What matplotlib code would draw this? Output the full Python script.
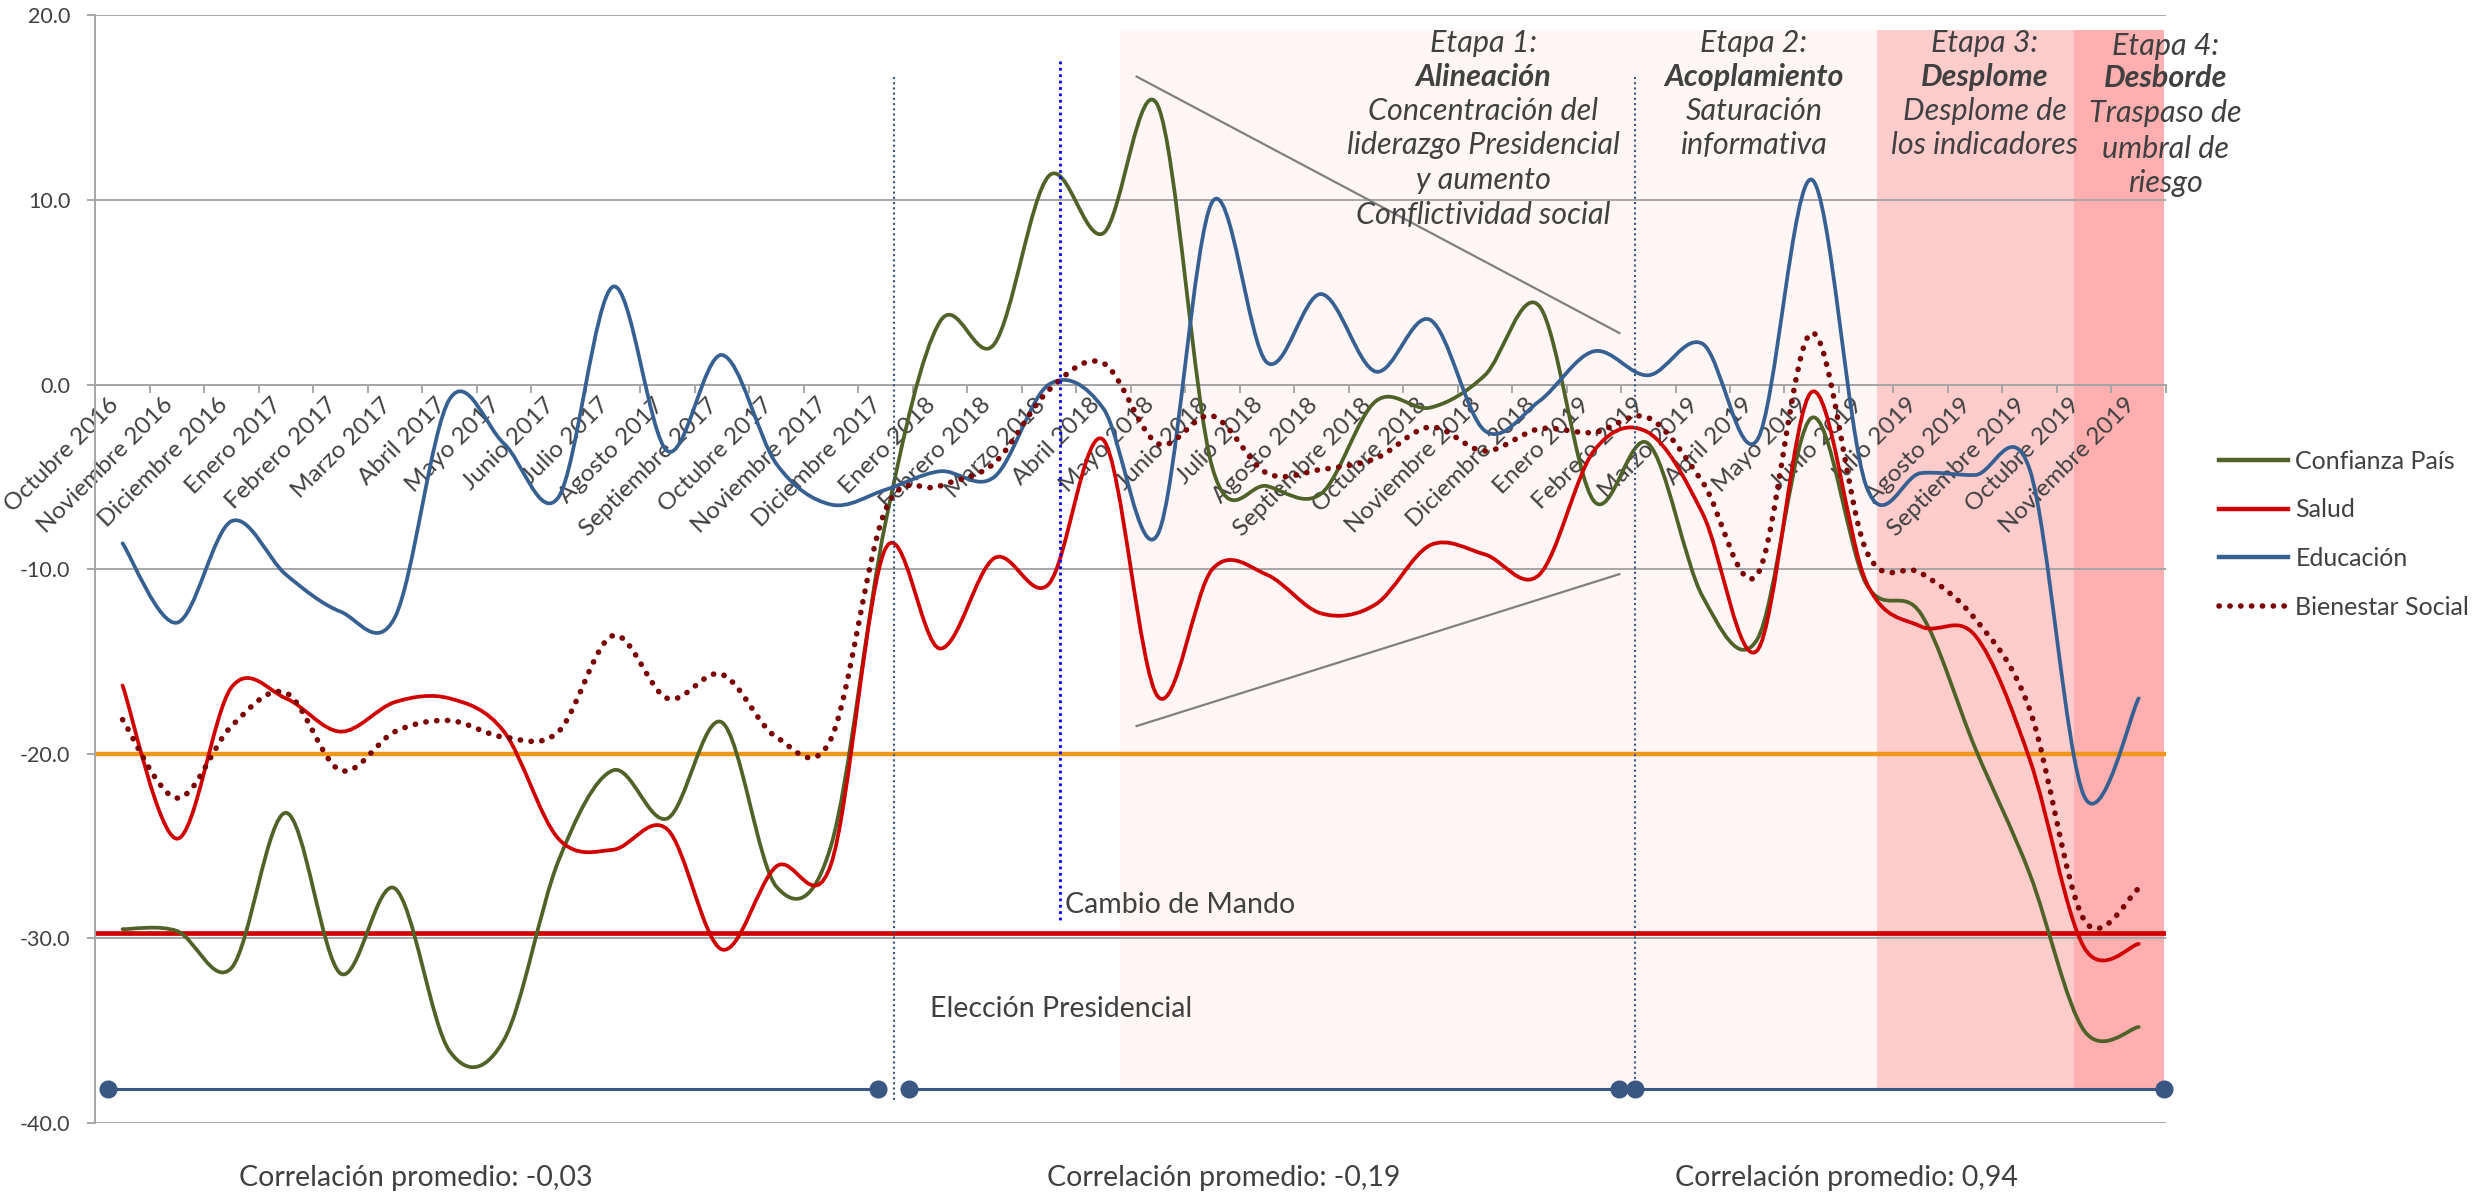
import matplotlib
matplotlib.use('Agg')
import matplotlib.pyplot as plt
from matplotlib.path import Path
from matplotlib.patches import PathPatch
from matplotlib.lines import Line2D
from matplotlib.transforms import ScaledTranslation

plt.rcParams['font.family'] = ['Lato', 'DejaVu Sans']

# datos
meses = ['Octubre 2016', 'Noviembre 2016', 'Diciembre 2016', 'Enero 2017', 'Febrero 2017',
         'Marzo 2017', 'Abril 2017', 'Mayo 2017', 'Junio 2017', 'Julio 2017', 'Agosto 2017',
         'Septiembre 2017', 'Octubre 2017', 'Noviembre 2017', 'Diciembre 2017', 'Enero 2018',
         'Febrero 2018', 'Marzo 2018', 'Abril 2018', 'Mayo 2018', 'Junio 2018', 'Julio 2018',
         'Agosto 2018', 'Septiembre 2018', 'Octubre 2018', 'Noviembre 2018', 'Diciembre 2018',
         'Enero 2019', 'Febrero 2019', 'Marzo 2019', 'Abril 2019', 'Mayo 2019', 'Junio 2019',
         'Julio 2019', 'Agosto 2019', 'Septiembre 2019', 'Octubre 2019', 'Noviembre 2019']

confianza = [-29.5, -29.6, -31.6, -23.2, -31.9, -27.3, -36.1, -35.5, -25.8, -20.9, -23.5, -18.3,
             -27.2, -25.0, -7.5, 3.4, 2.2, 11.3, 8.2, 15.1, -4.5, -5.5, -5.9, -0.9, -1.25, 0.5,
             4.25, -6.3, -3.2, -11.5, -13.8, -1.8, -10.8, -12.4, -19.7, -26.5, -35.0, -34.8]
salud = [-16.3, -24.6, -16.4, -17.0, -18.8, -17.2, -17.0, -18.8, -24.6, -25.2, -24.1, -30.6,
         -26.1, -26.0, -8.9, -14.3, -9.4, -10.8, -3.0, -16.9, -10.0, -10.3, -12.4, -11.9, -8.7,
         -9.2, -10.3, -3.6, -2.6, -7.0, -14.4, -0.4, -10.7, -13.1, -13.6, -20.3, -30.5, -30.3]
educacion = [-8.6, -12.9, -7.4, -10.3, -12.3, -12.6, -0.8, -3.2, -6.1, 5.3, -3.6, 1.6, -4.3,
             -6.5, -5.7, -4.7, -5.0, 0.0, -1.3, -8.1, 9.9, 1.2, 4.9, 0.7, 3.5, -2.5, -0.9, 1.8,
             0.5, 2.2, -3.0, 11.1, -5.5, -4.8, -4.9, -4.6, -22.3, -17.0]
bienestar = [-18.15, -22.4, -18.5, -16.7, -20.9, -18.8, -18.2, -19.1, -18.8, -13.6, -17.0, -15.7,
             -19.1, -19.2, -6.8, -5.5, -4.25, -0.3, 1.15, -3.2, -1.7, -4.8, -4.6, -4.0, -2.3,
             -3.6, -2.4, -2.6, -1.8, -5.3, -10.3, 2.8, -9.0, -10.2, -12.7, -17.6, -29.0, -27.3]

umbral_naranjo = -20.0
umbral_rojo = -29.7

etapas = [
    ['Etapa 1:', 'Alineación', 'Concentración del', 'liderazgo Presidencial', 'y aumento',
     'Conflictividad social'],
    ['Etapa 2:', 'Acoplamiento', 'Saturación', 'informativa'],
    ['Etapa 3:', 'Desplome', 'Desplome de', 'los indicadores'],
    ['Etapa 4:', 'Desborde', 'Traspaso de', 'umbral de', 'riesgo'],
]
correlaciones = ['Correlación promedio: -0,03', 'Correlación promedio: -0,19',
                 'Correlación promedio: 0,94']

TXT = '#404040'
GRID = '#A6A6A6'


def curva(ys):
    # suavizado tipo Excel (bezier con tangentes de Catmull-Rom)
    xs = list(range(len(ys)))
    n = len(xs)
    verts = [(xs[0], ys[0])]
    codes = [Path.MOVETO]
    for k in range(n - 1):
        x0, y0 = (xs[k - 1], ys[k - 1]) if k > 0 else (xs[k], ys[k])
        x3, y3 = (xs[k + 2], ys[k + 2]) if k + 2 < n else (xs[k + 1], ys[k + 1])
        c1 = (xs[k] + (xs[k + 1] - x0) / 6, ys[k] + (ys[k + 1] - y0) / 6)
        c2 = (xs[k + 1] - (x3 - xs[k]) / 6, ys[k + 1] - (y3 - ys[k]) / 6)
        verts += [c1, c2, (xs[k + 1], ys[k + 1])]
        codes += [Path.CURVE4] * 3
    return Path(verts, codes)


fig = plt.figure(figsize=(24.78, 11.94), dpi=100)
ax = fig.add_axes([0.03846, 0.05946, 0.8356, 0.92773])
ax.set_xlim(-0.5, len(meses) - 0.5)
ax.set_ylim(-40, 20)

# zonas de etapas
y0, y1 = (-38.15 + 40) / 60, (19.2 + 40) / 60
ax.axvspan(18.3, 32.2, ymin=y0, ymax=y1, color='#FFF6F5', lw=0, zorder=0)
ax.axvspan(32.2, 35.81, ymin=y0, ymax=y1, color='#FFCCCC', lw=0, zorder=0)
ax.axvspan(35.81, 37.47, ymin=y0, ymax=y1, color='#FFAFAF', lw=0, zorder=0)

# grilla
for v in range(-40, 21, 10):
    ax.axhline(v, color=GRID, lw=1.4, zorder=1)

ax.axhline(umbral_naranjo, color='#F0961A', lw=3.2, zorder=2)
ax.axhline(umbral_rojo, color='#D00000', lw=3.4, zorder=2)

# triangulo
ax.plot([18.61, 27.47], [16.68, 2.79], color='#808080', lw=1.6, zorder=2)
ax.plot([18.61, 27.47], [-18.5, -10.27], color='#808080', lw=1.6, zorder=2)

series = [
    ('Confianza País', confianza, '#4F6228'),
    ('Salud', salud, '#D00000'),
    ('Educación', educacion, '#376092'),
]
handles = []
for nombre, ys, col in series:
    ax.add_patch(PathPatch(curva(ys), fill=False, edgecolor=col, lw=2.7, zorder=4,
                           capstyle='round', joinstyle='round'))
    handles.append(Line2D([], [], color=col, lw=3.2, label=nombre))
punteado = (0, (0.05, 1.9))
ax.add_patch(PathPatch(curva(bienestar), fill=False, edgecolor='#7B0000', lw=4.0, zorder=4,
                       linestyle=punteado, capstyle='round'))
handles.append(Line2D([], [], color='#7B0000', lw=4.0, linestyle=punteado,
                      dash_capstyle='round', label='Bienestar Social'))

# lineas de periodos con marcadores
for a, b in [(-0.27, 13.86), (14.44, 27.47), (27.76, 37.46)]:
    ax.plot([a, b], [-38.15, -38.15], color='#3A5683', lw=2.2, marker='o', ms=12,
            zorder=5, clip_on=False)

# hitos
ax.plot([14.16, 14.16], [16.68, -38.87], color='#3A5683', lw=1.5, ls=(0, (1, 1.5)), zorder=5, clip_on=False)
ax.plot([17.2, 17.2], [17.55, -29.1], color='#0000FF', lw=2.0, ls=(0, (1, 1.3)), zorder=5)
ax.plot([27.75, 27.75], [16.68, -38.15], color='#3A5683', lw=1.5, ls=(0, (1, 1.5)), zorder=5)
ax.text(17.29, -28.2, 'Cambio de Mando', fontsize=20.5, color=TXT, ha='left', va='center', zorder=6)
ax.text(14.81, -33.83, 'Elección Presidencial', fontsize=20.5, color=TXT, ha='left', va='center', zorder=6)

# textos de etapas
centros = [24.97, 29.94, 34.18, 37.49]
alturas = [[18.5, 16.68, 14.81, 12.99, 11.08, 9.18],
           [18.5, 16.68, 14.81, 12.99],
           [18.5, 16.68, 14.81, 12.99],
           [18.34, 16.58, 14.71, 12.78, 10.92]]
for lineas, cx, ys in zip(etapas, centros, alturas):
    for j, (t, yy) in enumerate(zip(lineas, ys)):
        ax.text(cx, yy, t, fontsize=22, color=TXT, style='italic',
                weight='bold' if j == 1 else 'normal', ha='center', va='center', zorder=6)

# ejes
ax.spines['top'].set_visible(False)
ax.spines['right'].set_visible(False)
ax.spines['bottom'].set_position(('data', 0))
ax.spines['bottom'].set_color(GRID)
ax.spines['bottom'].set_linewidth(1.4)
ax.spines['left'].set_color(GRID)
ax.spines['left'].set_linewidth(1.4)

ax.set_xticks(range(len(meses)))
ax.set_xticklabels(meses, rotation=45, ha='right', va='top', fontsize=17.5, color=TXT)
desplaza = ScaledTranslation(0.07, 0, fig.dpi_scale_trans)
for lab in ax.get_xticklabels():
    lab.set_transform(lab.get_transform() + desplaza)
ax.set_xticks([i - 0.5 for i in range(len(meses) + 1)], minor=True)
ax.tick_params(axis='x', which='major', length=0, pad=7)
ax.tick_params(axis='x', which='minor', length=6, width=1.4, color=GRID, direction='out')
ax.set_yticks(range(-40, 21, 10))
ax.set_yticklabels([f'{v:.1f}' for v in range(-40, 21, 10)], fontsize=15.5, color=TXT)
ax.tick_params(axis='y', length=6, width=1.4, color=GRID, pad=12)

for txt, xf in zip(correlaciones, [0.1677, 0.4939, 0.745]):
    fig.text(xf, 0.0137, txt, fontsize=20.5, color=TXT, ha='center', va='center')

fig.legend(handles=handles, loc='upper left', bbox_to_anchor=(0.8955, 0.6235), frameon=False,
           fontsize=18, handlelength=2.75, handletextpad=0.3, labelspacing=1.03,
           borderpad=0, borderaxespad=0, labelcolor=TXT)

fig.savefig('out.png', dpi=100)
